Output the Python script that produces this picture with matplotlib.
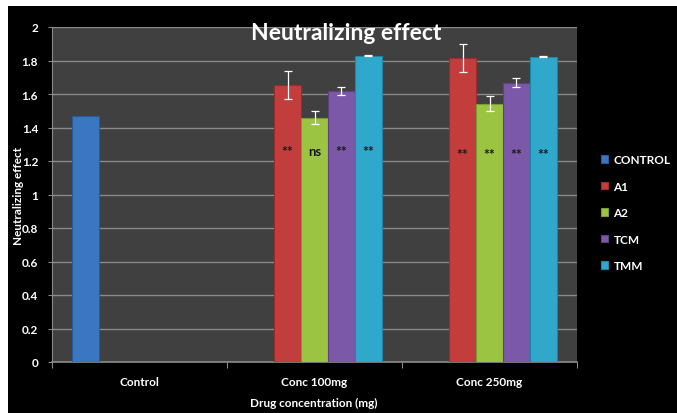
import numpy as np
import matplotlib
matplotlib.use("Agg")
import matplotlib.pyplot as plt
from matplotlib.patches import Rectangle

categories = ['Control', 'Conc 100mg', 'Conc 250mg']
series = ['CONTROL', 'A1', 'A2', 'TCM', 'TMM']
values = {
    'CONTROL': [1.47, 0.0, 0.0],
    'A1':      [0.0, 1.655, 1.815],
    'A2':      [0.0, 1.458, 1.543],
    'TCM':     [0.0, 1.618, 1.668],
    'TMM':     [0.0, 1.828, 1.822],
}
errors = {
    'CONTROL': [0.0, 0.0, 0.0],
    'A1':      [0.0, 0.082, 0.082],
    'A2':      [0.0, 0.04, 0.045],
    'TCM':     [0.0, 0.025, 0.026],
    'TMM':     [0.0, 0.003, 0.003],
}
signif = {
    'A1':  ['', '**', '**'],
    'A2':  ['', 'ns', '**'],
    'TCM': ['', '**', '**'],
    'TMM': ['', '**', '**'],
}
signif_y = [0.0, 1.26, 1.24]
yticks = [0, 0.2, 0.4, 0.6, 0.8, 1, 1.2, 1.4, 1.6, 1.8, 2]

colors = {'CONTROL': '#3b76c2', 'A1': '#c43d3d', 'A2': '#9cc443',
          'TCM': '#7b59a8', 'TMM': '#2fa8cc'}
edges = {'CONTROL': '#2a5a98', 'A1': '#9a2c2c', 'A2': '#7a9c30',
         'TCM': '#5e4284', 'TMM': '#1f86a6'}

W, H = 677, 414
fig = plt.figure(figsize=(W / 100, H / 100), dpi=100, facecolor='white')
fig.patches.append(Rectangle((8 / W, 0), 1, 1 - 7 / H, transform=fig.transFigure,
                             facecolor='black', edgecolor='none', zorder=-10))
ax = fig.add_axes([52 / W, (H - 363) / H, (577 - 52) / W, (363 - 28) / H])
ax.set_facecolor('#404040')

fam = ['Lato', 'DejaVu Sans']
n = len(series)
bw = 0.154
x = np.arange(len(categories))
for i, s in enumerate(series):
    v = np.array(values[s])
    e = np.array(errors[s])
    idx = v > 0
    xpos = x[idx] + (i - (n - 1) / 2) * bw
    ax.bar(xpos, v[idx], width=bw, color=colors[s], edgecolor=edges[s],
           linewidth=0.8, label=s, zorder=3)
    if np.any(e[idx] > 0):
        ax.errorbar(xpos, v[idx], yerr=e[idx], fmt='none', ecolor='white',
                    elinewidth=0.9, capsize=3, capthick=0.9, zorder=4)
    if s in signif:
        for j in range(len(categories)):
            t = signif[s][j]
            if t and v[j] > 0:
                xx = x[j] + (i - (n - 1) / 2) * bw
                ax.text(xx, signif_y[j], t, ha='center', va='center',
                        fontsize=9.5 if t == 'ns' else 10, fontweight='bold',
                        color='#1a1a1a', family=fam, zorder=5)

ax.set_xlim(-0.5, len(categories) - 0.5)
ax.set_ylim(0, 2)
ax.set_yticks(yticks)
ax.set_yticklabels([f'{t:g}' for t in yticks], family=fam, fontsize=8.5,
                   color='white', fontweight='bold')
ax.yaxis.grid(True, color='#8a8a8a', linewidth=1.0, zorder=0)
ax.set_axisbelow(True)

ax.set_xticks(np.arange(len(categories) + 1) - 0.5)
ax.set_xticklabels([])
ax.set_xticks(x, minor=True)
ax.set_xticklabels(categories, minor=True, family=fam, fontsize=8.5,
                   color='white', fontweight='bold')
ax.tick_params(axis='x', which='major', length=4, color='#8a8a8a', direction='out')
ax.tick_params(axis='x', which='minor', length=0, pad=10)
ax.tick_params(axis='y', length=3, color='#8a8a8a', pad=7)

for sp in ['top', 'right']:
    ax.spines[sp].set_visible(False)
ax.spines['left'].set_color('#8a8a8a')
ax.spines['bottom'].set_color('#8a8a8a')
ax.spines['bottom'].set_linewidth(1.2)

fig.text(346 / W, 1 - 33 / H, 'Neutralizing effect', ha='center', va='center',
         fontsize=16.5, fontweight='bold', color='white', family=fam, zorder=10)
fig.text(19 / W, 1 - 196 / H, 'Neutralizing effect', ha='center', va='center',
         rotation=90, fontsize=8.5, fontweight='bold', color='white', family=fam)
fig.text(314 / W, 1 - 403 / H, 'Drug concentration (mg)', ha='center', va='center',
         fontsize=8.5, fontweight='bold', color='white', family=fam)

leg = fig.legend(loc='upper left', bbox_to_anchor=(601 / W, 1 - 155 / H),
                 frameon=False, labelspacing=1.32, handlelength=0.6,
                 handleheight=0.6, handletextpad=0.45, borderpad=0, borderaxespad=0,
                 prop={'family': fam, 'weight': 'bold', 'size': 8.5})
for t in leg.get_texts():
    t.set_color('white')

fig.savefig('out.png', dpi=100, facecolor=fig.get_facecolor())
